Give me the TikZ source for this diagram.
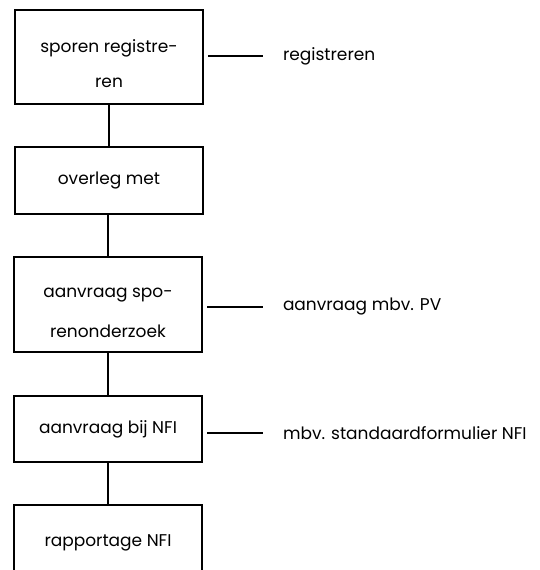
\documentclass[tikz,border=0pt]{standalone}
\usepackage{fontspec}
\setmainfont{Poppins}
\usepackage{tikz}
\usetikzlibrary{positioning}

\begin{document}
\begin{tikzpicture}[
  x=1pt,y=1pt,
  stap/.style={draw,line width=2pt,minimum width=188pt,align=center,inner sep=0pt,font=\fontsize{17}{35}\selectfont},
  uitleg/.style={anchor=west,inner sep=0pt,font=\fontsize{17}{20}\selectfont},
  line width=2pt
]
\useasboundingbox (0,0) rectangle (540,-570);
\node[stap,minimum height=94pt] (reg)  at (109,-57)    {\rule{0pt}{26pt}sporen registre-\\ren};
\node[stap,minimum height=67pt] (ovl)  at (109,-180.5) {overleg met};
\node[stap,minimum height=95pt,font=\fontsize{17}{40}\selectfont] (aso) at (108,-304.5) {\rule{0pt}{27pt}aanvraag spo-\\renonderzoek};
\node[stap,minimum height=66pt] (nfi)  at (108,-429) {aanvraag bij NFI};
\node[stap,minimum height=76pt] (rap)  at (108,-543) {rapportage NFI};
\node[uitleg] (u1) at (282,-56)  {registreren};
\node[uitleg] (u2) at (282,-307) {aanvraag mbv. PV};
\node[uitleg] (u3) at (282,-433) {mbv. standaardformulier NFI};
\draw (reg) -- (ovl); \draw (aso.north |- ovl.south) -- (aso.north);
\draw (aso) -- (nfi); \draw (nfi) -- (rap);
\draw (reg.east |- u1.west) ++(4pt,0) -- ([xshift=-19pt]u1.west);
\draw (aso.east |- u2.west) ++(4pt,0) -- ([xshift=-19pt]u2.west);
\draw (nfi.east |- u3.west) ++(4pt,0) -- ([xshift=-19pt]u3.west);
\end{tikzpicture}
\end{document}
